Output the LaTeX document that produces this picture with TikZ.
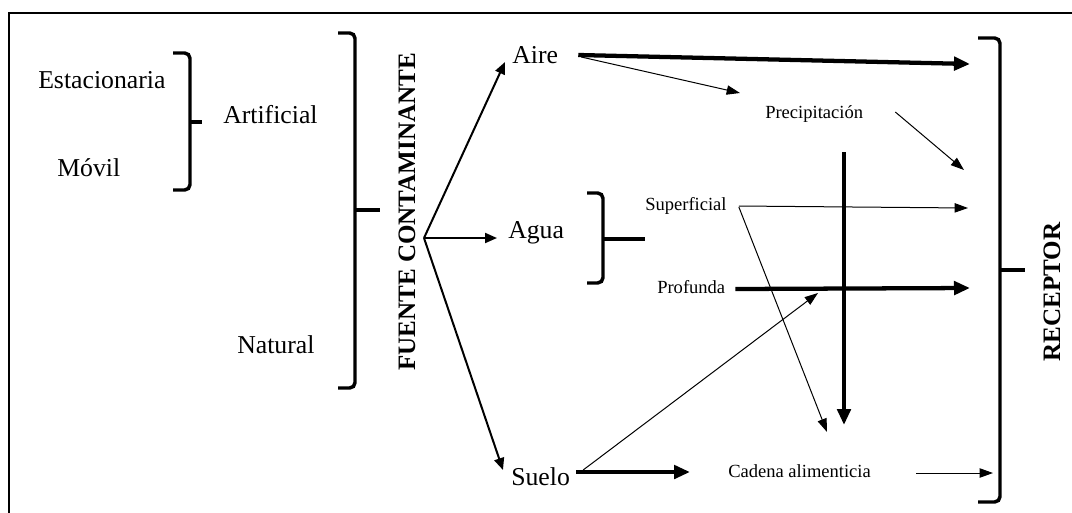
\documentclass[tikz,border=0pt]{standalone}
\usepackage{fontspec}
\setmainfont{Liberation Serif}
\usetikzlibrary{arrows.meta,calc}

\begin{document}
\begin{tikzpicture}[x=0.75pt,y=-0.75pt,
    grande/.style={font=\fontsize{19.3}{23}\selectfont,inner sep=0pt,anchor=base west},
    chico/.style={font=\fontsize{13.9}{16}\selectfont,inner sep=0pt,anchor=base west},
    titulo/.style={font=\fontsize{18.8}{22}\selectfont\bfseries,inner sep=0pt,rotate=90},
    llave/.style={line width=2.6pt,rounded corners=4pt},
    flecha/.style={line width=1.5pt,-{Triangle[length=9pt,width=7.5pt]}},
    fina/.style={line width=0.75pt,-{Triangle[length=10pt,width=7pt]}},
    gruesa/.style={line width=3.2pt,-{Triangle[length=12pt,width=10pt]}}]
    \useasboundingbox (0,0) rectangle (1072,512);
    \draw[line width=1.5pt] (9,516) -- (9,13) -- (1076,13);

    % fuente
    \node[grande] (estacionaria) at (38,88) {Estacionaria};
    \node[grande] (movil) at (57,176) {Móvil};
    \node[grande] (artificial) at (223,123) {Artificial};
    \node[grande] (natural) at (237,353) {Natural};
    \node[titulo] (fuente) at (407,212) {FUENTE CONTAMINANTE};
    \draw[llave] (173,53) -- (190,53) -- (190,190) -- (173,190);
    \draw[llave] (190,122) -- (202,122);
    \draw[llave] (338,33) -- (355,33) -- (355,388) -- (338,388);
    \draw[llave] (355,210) -- (380,210);

    % medios
    \coordinate (fork) at (424,238);
    \node[grande] (aire) at (512,63) {Aire};
    \node[grande] (agua) at (508,238) {Agua};
    \node[grande] (suelo) at (511,485) {Suelo};
    \draw[flecha] (fork) -- ($(aire.base west)+(-7,-1)$);
    \draw[flecha] (fork) -- ($(agua.base west)+(-11,0)$);
    \draw[flecha] (fork) -- ($(suelo.base west)+(-8,-15)$);
    \draw[llave] (587,193) -- (603,193) -- (603,283) -- (587,283);
    \draw[llave] (603,239) -- (645,239);

    \node[chico] (precip) at (765,118) {Precipitación};
    \node[chico] (superficial) at (645,210) {Superficial};
    \node[chico] (profunda) at (657,293) {Profunda};
    \node[chico] (cadena) at (728,477) {Cadena alimenticia};

    % receptor
    \node[titulo] (receptor) at (1052,292) {RECEPTOR};
    \draw[llave] (978,38) -- (1000,38) -- (1000,502) -- (978,502);
    \draw[llave] (1000,270) -- (1025,270);
    \coordinate (r1) at (970,64);
    \coordinate (r2) at (964,170);
    \coordinate (r3) at (968,208);
    \coordinate (r4) at (970,288);
    \coordinate (r5) at (993,473);
    \coordinate (cruce) at (818,293);
    \coordinate (gota) at (844,152);
    \coordinate (gota fin) at (844,425);

    \draw[gruesa] ($(aire.base east)+(20,-8)$) -- (r1);
    \draw[fina] ($(aire.base east)+(23,-6)$) -- ($(precip.base west)+(-25,-25)$);
    \draw[fina] ($(precip.base east)+(32,-6)$) -- (r2);
    \draw[gruesa] (gota) -- (gota fin);
    \draw[fina] ($(superficial.base east)+(12,-4)$) -- (r3);
    \draw[fina] ($(superficial.base east)+(12,-3)$) -- ($(cadena.base west)+(99,-45)$);
    \draw[gruesa] ($(profunda.base east)+(10,-4)$) -- (r4);
    \draw[gruesa] ($(suelo.base east)+(6,-13)$) -- ($(cadena.base west)+(-38,-5)$);
    \draw[fina] ($(suelo.base east)+(13,-15)$) -- (cruce);
    \draw[fina] ($(cadena.base east)+(45,-4)$) -- (r5);
\end{tikzpicture}
\end{document}
